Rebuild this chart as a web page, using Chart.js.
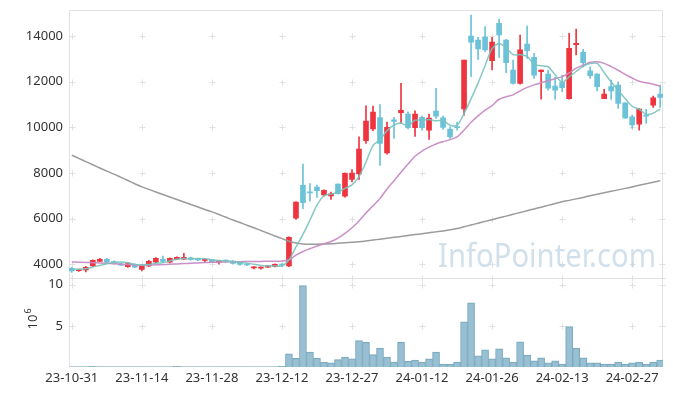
<!DOCTYPE html>
<html>
<head>
<meta charset="utf-8">
<script src="https://cdn.jsdelivr.net/npm/chart.js@4.4.1/dist/chart.umd.min.js"></script>
<style>
  html, body { margin: 0; padding: 0; background: #fff; }
</style>
</head>
<body>
<canvas id="stock" width="673" height="396"></canvas>
<script>
var dates = [
  '23-10-31','23-11-01','23-11-02','23-11-03','23-11-06','23-11-07','23-11-08','23-11-09','23-11-10','23-11-13',
  '23-11-14','23-11-15','23-11-16','23-11-17','23-11-20','23-11-21','23-11-22','23-11-23','23-11-24','23-11-27',
  '23-11-28','23-11-29','23-11-30','23-12-01','23-12-04','23-12-05','23-12-06','23-12-07','23-12-08','23-12-11',
  '23-12-12','23-12-13','23-12-14','23-12-15','23-12-18','23-12-19','23-12-20','23-12-21','23-12-22','23-12-26',
  '23-12-27','23-12-28','24-01-02','24-01-03','24-01-04','24-01-05','24-01-08','24-01-09','24-01-10','24-01-11',
  '24-01-12','24-01-15','24-01-16','24-01-17','24-01-18','24-01-19','24-01-22','24-01-23','24-01-24','24-01-25',
  '24-01-26','24-01-29','24-01-30','24-01-31','24-02-01','24-02-02','24-02-05','24-02-06','24-02-07','24-02-08',
  '24-02-13','24-02-14','24-02-15','24-02-16','24-02-19','24-02-20','24-02-21','24-02-22','24-02-23','24-02-26',
  '24-02-27','24-02-28','24-02-29','24-03-04','24-03-05'
];

var opens = [
  3825,3720,3750,3930,4130,4220,4115,4030,3900,4000,
  3770,3930,4090,4220,4090,4220,4220,4280,4230,4170,
  4190,4090,4180,4140,4060,4010,3840,3830,3870,3910,
  4000,3930,6020,7460,7170,7380,7040,7000,7510,6980,
  7720,7960,9410,9935,10430,8880,10330,10640,10580,9985,
  10435,9875,10710,10420,9920,10010,10810,14000,13825,13970,
  12920,14560,13825,12510,11925,13650,13065,12440,12335,11810,
  11955,11250,13620,13285,12480,12335,11250,11780,11850,11075,
  10460,10140,10520,10975,11455
];
var highs = [
  3870,3790,3910,4200,4260,4260,4150,4050,4090,4020,
  3960,4170,4290,4360,4280,4330,4480,4320,4260,4260,
  4220,4170,4200,4160,4080,4030,3900,3890,3950,4020,
  4030,5200,6740,8390,7540,7465,7260,7160,7530,8010,
  8150,9585,10940,10930,11000,10230,10435,11925,10680,10725,
  10490,10580,11705,10490,10020,10230,12950,14920,13945,14410,
  13945,14740,13850,12950,14045,14440,13240,12520,12510,12190,
  12290,14120,14300,13415,12650,12360,11660,12070,11995,11075,
  10535,10830,10785,11370,11850
];
var lows = [
  3640,3690,3660,3900,4110,4050,4000,3940,3860,3850,
  3710,3900,4070,4100,4060,4200,4200,4180,4160,4100,
  4080,4000,4090,4010,3950,3940,3800,3790,3850,3880,
  3900,3900,5960,6440,6760,6925,6980,6840,7070,6940,
  7610,7715,9290,9850,8330,8825,9515,10170,9935,9600,
  9875,9470,10390,9910,9515,9875,10535,12215,12980,13310,
  12510,13065,12390,11895,11895,13020,12145,11235,11630,11225,
  11560,11235,13170,12650,12145,11600,11250,11225,10830,10390,
  9950,9875,10170,10870,10870
];
var closes = [
  3710,3770,3870,4175,4220,4090,4030,3960,4030,3870,
  3950,4130,4260,4130,4260,4300,4300,4210,4190,4200,
  4100,4140,4110,4040,3990,3970,3880,3870,3930,4000,
  3960,5180,6720,6700,7130,7220,7245,7085,7090,7990,
  8000,9045,10270,10665,9290,9995,10260,10750,9985,10580,
  9985,10400,10490,10000,9585,9990,12950,13735,13430,13390,
  13735,14045,12830,11925,13390,13360,12290,12510,11720,11630,
  11735,13460,13680,12830,12260,11780,11455,11600,11050,10415,
  10100,10800,10490,11295,11310
];
// volume in millions of shares
var volumes = [
  0.02,0.02,0.02,0.08,0.02,0.02,0.02,0.02,0.02,0.02,
  0.02,0.02,0.02,0.02,0.02,0.08,0.02,0.02,0.02,0.02,
  0.02,0.02,0.02,0.02,0.02,0.02,0.02,0.02,0.02,0.02,
  0.1,1.6,1.05,9.9,1.8,1.05,0.6,0.5,0.9,1.2,
  1.0,3.2,3.0,1.5,2.3,1.2,0.6,3.0,0.7,0.85,
  0.6,1.0,1.8,0.35,0.35,0.6,5.5,7.8,1.35,2.1,
  1.0,2.2,1.1,0.6,3.05,1.45,0.75,1.1,0.5,0.75,
  0.35,4.9,2.3,1.1,0.5,0.5,0.35,0.35,0.6,0.35,
  0.5,0.6,0.35,0.6,0.85
];
var ma5 = [
  3790,3780,3800,3880,3950,4025,4077,4095,4066,3996,
  3968,3988,4048,4068,4146,4216,4250,4240,4252,4240,
  4200,4168,4148,4118,4076,4050,3998,3950,3928,3930,
  3928,4188,4758,5312,5938,6590,7003,7076,7154,7326,
  7482,7842,8479,9194,9454,9853,10096,10192,10056,10314,
  10312,10340,10288,10291,10092,10093,10603,11252,11938,12699,
  13448,13667,13486,13185,13185,13110,12759,12695,12654,12302,
  11977,12211,12445,12667,12793,12802,12401,11985,11629,11260,
  10924,10793,10571,10620,10799
];
var ma20 = [
  4100,4090,4080,4070,4060,4040,4020,4000,3985,3970,
  3960,3965,3975,3985,4000,4015,4030,4045,4060,4075,
  4085,4095,4105,4110,4115,4120,4120,4125,4130,4135,
  4145,4200,4400,4560,4680,4800,4900,5000,5150,5350,
  5600,5900,6250,6560,6880,7300,7660,8030,8390,8730,
  8960,9130,9270,9370,9460,9580,9880,10220,10500,10750,
  10950,11230,11340,11420,11600,11750,11860,11950,12040,12130,
  12220,12380,12590,12720,12850,12870,12800,12660,12500,12320,
  12160,12020,11950,11890,11800
];
var ma120 = [
  8780,8640,8500,8360,8220,8080,7950,7810,7670,7530,
  7390,7280,7170,7060,6950,6840,6730,6620,6510,6400,
  6295,6180,6060,5940,5830,5710,5600,5480,5360,5240,
  5125,5010,4930,4890,4880,4880,4890,4900,4920,4940,
  4960,4985,5020,5060,5100,5140,5180,5220,5260,5300,
  5340,5380,5420,5460,5510,5565,5645,5720,5800,5880,
  5955,6035,6110,6190,6270,6345,6425,6500,6580,6660,
  6735,6800,6865,6930,7000,7065,7130,7195,7260,7325,
  7390,7460,7525,7590,7655
];
var priceTicks = [4000, 6000, 8000, 10000, 12000, 14000];
var volTicks = [5, 10];
var dateTicks = [0, 10, 20, 30, 40, 50, 60, 70, 80];

var upColor = '#ee343f';
var downColor = '#6cc3d9';
var labelFont = { family: 'Noto Sans', size: 13 };

function candleColor(c) {
  var i = c.dataIndex;
  return closes[i] >= opens[i] ? upColor : downColor;
}
function points(arr) {
  return arr.map(function (v, i) { return { x: i, y: v }; });
}
function ranges(a, b) {
  return a.map(function (v, i) { return { x: i, y: [v, b[i]] }; });
}
// keep the y axes from pushing the plot area down
function fixWidth(s) {
  s.width = 69;
  s.paddingTop = 0;
  s.paddingBottom = 0;
}

// frame, grid crosses, watermark, 10^6 unit label
var decor = {
  id: 'decor',
  beforeDatasetsDraw: function (chart) {
    var c = chart.ctx, a = chart.chartArea;
    var sx = chart.scales.x, sy = chart.scales.y, sv = chart.scales.yv;
    c.save();
    c.strokeStyle = '#e2e2e2';
    c.lineWidth = 1;
    c.beginPath();
    c.moveTo(a.left + 0.5, a.top + 0.5); c.lineTo(a.right - 0.5, a.top + 0.5);
    c.lineTo(a.right - 0.5, a.bottom - 0.5); c.lineTo(a.left + 0.5, a.bottom - 0.5);
    c.closePath();
    var mid = Math.round(sv.top) + 0.5;
    c.moveTo(a.left, mid); c.lineTo(a.right, mid);
    c.stroke();

    c.strokeStyle = '#e0e0e0';
    c.beginPath();
    function cross(px, py) {
      px = Math.round(px) + 0.5; py = Math.round(py) + 0.5;
      c.moveTo(px - 3, py); c.lineTo(px + 3, py);
      c.moveTo(px, py - 3); c.lineTo(px, py + 3);
    }
    var xs = dateTicks.map(function (v) { return sx.getPixelForValue(v); });
    xs.push(a.right - 1);
    var ys = priceTicks.map(function (v) { return sy.getPixelForValue(v); })
      .concat(volTicks.map(function (v) { return sv.getPixelForValue(v); }));
    ys.push(sv.top);
    xs.forEach(function (px) { ys.forEach(function (py) { cross(px, py); }); });
    c.stroke();

    // watermark
    var text = 'InfoPointer.com';
    c.font = '33px "Noto Sans"';
    var w = c.measureText(text).width;
    c.fillStyle = 'rgba(178, 204, 220, 0.6)';
    c.translate(438, 267);
    c.scale(218 / w, 1);
    c.fillText(text, 0, 0);
    c.restore();

    // unit label of the volume axis
    c.save();
    c.fillStyle = '#333';
    c.translate(37, (sv.top + sv.bottom) / 2 + 7);
    c.rotate(-Math.PI / 2);
    c.font = '13px "Noto Sans"';
    c.textBaseline = 'alphabetic';
    c.fillText('10', 0, 0);
    var tw = c.measureText('10').width;
    c.font = '9px "Noto Sans"';
    c.fillText('6', tw + 1, -6);
    c.restore();
  }
};

var ctx = document.getElementById('stock').getContext('2d');
var stockChart = new Chart(ctx, {
  type: 'bar',
  data: {
    datasets: [
      {
        type: 'line', label: 'MA5', data: points(ma5), yAxisID: 'y', order: 0,
        borderColor: 'rgba(120, 195, 188, 0.9)', borderWidth: 1.5, pointRadius: 0, tension: 0.3
      },
      {
        type: 'line', label: 'MA20', data: points(ma20), yAxisID: 'y', order: 0,
        borderColor: 'rgba(200, 138, 196, 0.95)', borderWidth: 1.5, pointRadius: 0, tension: 0.3
      },
      {
        type: 'line', label: 'MA120', data: points(ma120), yAxisID: 'y', order: 0,
        borderColor: '#9b9b9b', borderWidth: 1.5, pointRadius: 0, tension: 0.3
      },
      {
        label: 'body', data: ranges(opens, closes), yAxisID: 'y', order: 1,
        backgroundColor: candleColor, barThickness: 5, minBarLength: 1, grouped: false
      },
      {
        label: 'wick', data: ranges(lows, highs), yAxisID: 'y', order: 2,
        backgroundColor: candleColor, barThickness: 1, grouped: false
      },
      {
        label: 'volume', data: points(volumes), yAxisID: 'yv', order: 3,
        backgroundColor: 'rgba(146, 189, 208, 0.95)', borderColor: '#78a7be', borderWidth: 1,
        barThickness: 7, grouped: false
      }
    ]
  },
  options: {
    responsive: false,
    animation: false,
    layout: { padding: { top: 10, right: 10, left: 0, bottom: 0 } },
    plugins: { legend: { display: false }, tooltip: { enabled: false } },
    scales: {
      x: {
        type: 'linear', min: -0.4, max: 84.4, offset: false,
        grid: { display: false, drawTicks: false, offset: false },
        border: { display: false },
        afterBuildTicks: function (s) { s.ticks = dateTicks.map(function (v) { return { value: v }; }); },
        afterFit: function (s) { s.height = 29; },
        ticks: {
          autoSkip: false, maxRotation: 0, padding: 3, color: '#333', font: labelFont,
          callback: function (v) { return dates[v]; }
        }
      },
      y: {
        position: 'left', stack: 'panes', stackWeight: 3, weight: 1,
        min: 3410, max: 15140,
        grid: { display: false, drawTicks: false },
        border: { display: false },
        afterBuildTicks: function (s) { s.ticks = priceTicks.map(function (v) { return { value: v }; }); },
        afterFit: fixWidth,
        ticks: { padding: 6, color: '#333', font: labelFont, callback: function (v) { return String(v); } }
      },
      yv: {
        position: 'left', stack: 'panes', stackWeight: 1, weight: 0,
        min: 0, max: 10.85,
        grid: { display: false, drawTicks: false },
        border: { display: false },
        afterBuildTicks: function (s) { s.ticks = volTicks.map(function (v) { return { value: v }; }); },
        afterFit: fixWidth,
        ticks: { padding: 6, color: '#333', font: labelFont, callback: function (v) { return String(v); } }
      }
    }
  },
  plugins: [decor]
});
</script>
</body>
</html>
